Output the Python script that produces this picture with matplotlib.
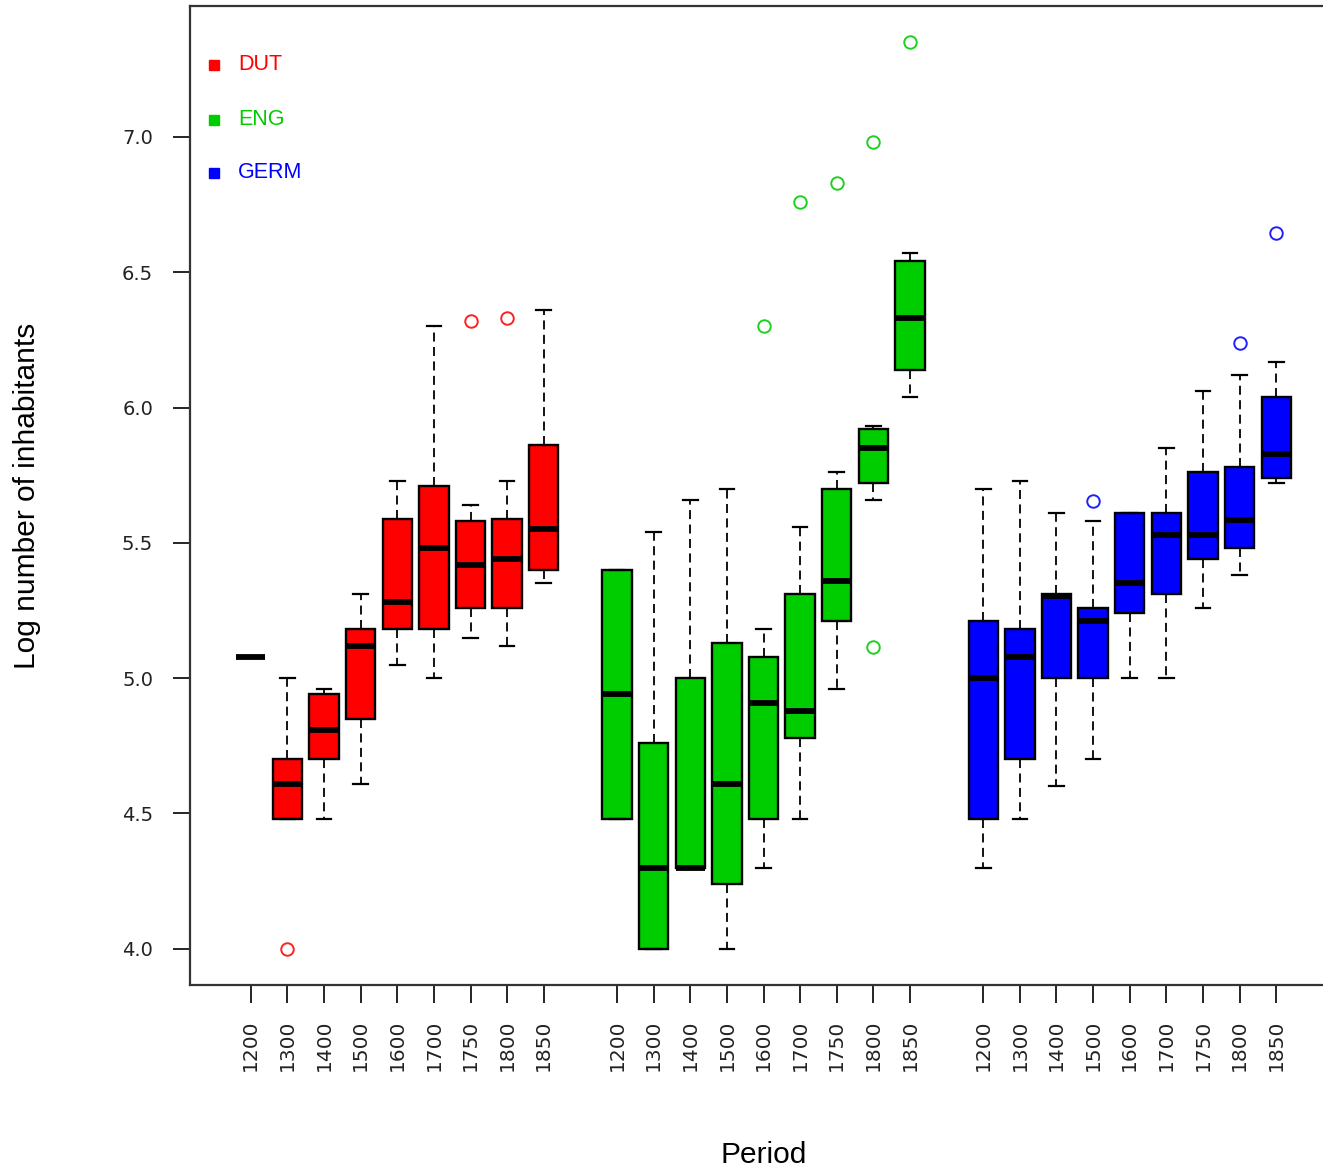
import matplotlib
matplotlib.use("Agg")
import matplotlib.pyplot as plt

# period labels, repeated for each language group
periods = ["1200", "1300", "1400", "1500", "1600", "1700", "1750", "1800", "1850"]
groups = ["DUT", "ENG", "GERM"]
group_colors = ["#FF0000", "#00CD00", "#0000FF"]
flier_colors = ["#FF2020", "#20D020", "#2020FF"]

# box statistics (log number of inhabitants)
dut_whislo = [5.08, 4.48, 4.48, 4.61, 5.05, 5.00, 5.15, 5.12, 5.35]
dut_q1     = [5.08, 4.48, 4.70, 4.85, 5.18, 5.18, 5.26, 5.26, 5.40]
dut_med    = [5.08, 4.61, 4.81, 5.12, 5.28, 5.48, 5.42, 5.44, 5.55]
dut_q3     = [5.08, 4.70, 4.94, 5.18, 5.59, 5.71, 5.58, 5.59, 5.86]
dut_whishi = [5.08, 5.00, 4.96, 5.31, 5.73, 6.30, 5.64, 5.73, 6.36]
dut_out    = [[], [4.00], [], [], [], [], [6.32], [6.33], []]

eng_whislo = [4.48, 4.00, 4.30, 4.00, 4.30, 4.48, 4.96, 5.66, 6.04]
eng_q1     = [4.48, 4.00, 4.30, 4.24, 4.48, 4.78, 5.21, 5.72, 6.14]
eng_med    = [4.94, 4.30, 4.30, 4.61, 4.91, 4.88, 5.36, 5.85, 6.33]
eng_q3     = [5.40, 4.76, 5.00, 5.13, 5.08, 5.31, 5.70, 5.92, 6.54]
eng_whishi = [5.40, 5.54, 5.66, 5.70, 5.18, 5.56, 5.76, 5.93, 6.57]
eng_out    = [[], [], [], [], [6.30], [6.76], [6.83], [6.98, 5.115], [7.35]]

germ_whislo = [4.30, 4.48, 4.60, 4.70, 5.00, 5.00, 5.26, 5.38, 5.72]
germ_q1     = [4.48, 4.70, 5.00, 5.00, 5.24, 5.31, 5.44, 5.48, 5.74]
germ_med    = [5.00, 5.08, 5.305, 5.21, 5.35, 5.53, 5.53, 5.585, 5.83]
germ_q3     = [5.21, 5.18, 5.31, 5.26, 5.61, 5.61, 5.76, 5.78, 6.04]
germ_whishi = [5.70, 5.73, 5.61, 5.58, 5.61, 5.85, 6.06, 6.12, 6.17]
germ_out    = [[], [], [], [5.655], [], [], [], [6.24], [6.645]]

data = [
    (dut_whislo, dut_q1, dut_med, dut_q3, dut_whishi, dut_out),
    (eng_whislo, eng_q1, eng_med, eng_q3, eng_whishi, eng_out),
    (germ_whislo, germ_q1, germ_med, germ_q3, germ_whishi, germ_out),
]

fig = plt.figure(figsize=(13.23, 11.68), dpi=100)
# axes extends past the right edge, like the cropped original
ax = fig.add_axes([190 / 1323, 183 / 1168, 1147 / 1323, 979 / 1168])

all_pos = []
all_labels = []
for g, (lo, q1, med, q3, hi, out) in enumerate(data):
    stats = []
    for i in range(len(periods)):
        stats.append(dict(whislo=lo[i], q1=q1[i], med=med[i], q3=q3[i],
                          whishi=hi[i], fliers=out[i]))
    pos = [g * 10 + i + 1 for i in range(len(periods))]
    all_pos += pos
    all_labels += periods
    ax.bxp(stats, positions=pos, widths=0.8, capwidths=0.4,
           patch_artist=True, showfliers=True,
           boxprops=dict(facecolor=group_colors[g], edgecolor="black", linewidth=1.7),
           medianprops=dict(color="black", linewidth=4.2, solid_capstyle="butt"),
           whiskerprops=dict(color="black", linewidth=1.3, linestyle=(0, (5, 3))),
           capprops=dict(color="black", linewidth=1.6),
           flierprops=dict(marker="o", markersize=9, markerfacecolor="none",
                           markeredgecolor=flier_colors[g], markeredgewidth=1.4))

ax.set_xlim(-0.66, 30.66)
ax.set_ylim(3.866, 7.484)
ax.set_xticks(all_pos)
ax.set_xticklabels(all_labels, rotation=90, family="DejaVu Sans", fontsize=14.5,
                   color="#222222")
ax.set_yticks([4.0, 4.5, 5.0, 5.5, 6.0, 6.5, 7.0])
ax.set_yticklabels(["4.0", "4.5", "5.0", "5.5", "6.0", "6.5", "7.0"],
                   family="DejaVu Sans", fontsize=14, color="#222222")
ax.tick_params(axis="x", length=13, width=1.2, pad=12)
ax.tick_params(axis="y", length=12.5, width=1.2, pad=14)
for s in ax.spines.values():
    s.set_linewidth(1.6)
    s.set_color("#333333")

ax.set_xlabel("Period", family="Liberation Sans", fontsize=21.5, labelpad=50)
ax.set_ylabel("Log number of inhabitants", family="Liberation Sans", fontsize=21.5, labelpad=58)

# legend: small squares with coloured labels
leg_y = [65, 120, 173]
for g in range(len(groups)):
    yv = 3.866 + (985 - leg_y[g]) / 979 * (7.484 - 3.866)
    ax.plot([-0.0], [yv], marker="s", markersize=6.5, color=group_colors[g], linestyle="none")
    ax.text(0.65, yv, groups[g], color=group_colors[g], family="Liberation Sans",
            fontsize=15.5, va="center", ha="left")

fig.savefig("out.png", dpi=100)
